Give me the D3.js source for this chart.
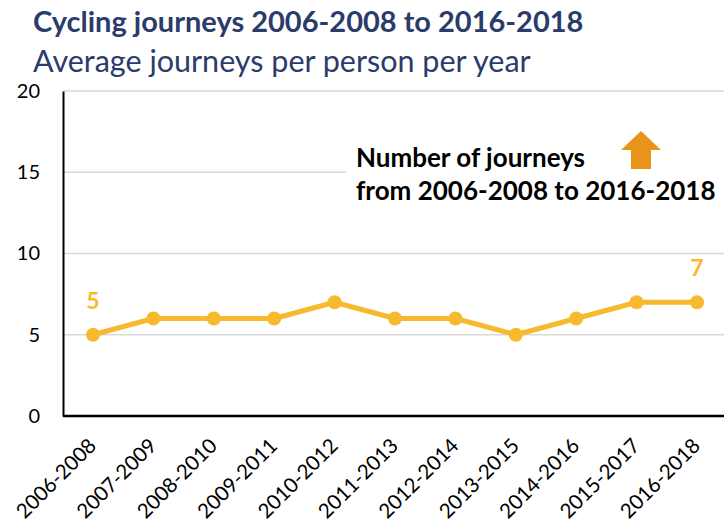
<!DOCTYPE html>
<html>
<head>
<meta charset="utf-8">
<script src="https://cdn.jsdelivr.net/npm/d3@7/dist/d3.min.js"></script>
<style>
  html, body { margin: 0; padding: 0; background: #fff; }
  svg { display: block; }
</style>
</head>
<body>
<svg id="chart" width="724" height="521"></svg>
<script>
// Cycling journeys per person per year, three-year rolling periods
const periods = ["2006-2008", "2007-2009", "2008-2010", "2009-2011", "2010-2012",
  "2011-2013", "2012-2014", "2013-2015", "2014-2016", "2015-2017", "2016-2018"];
const journeys = [5, 6, 6, 6, 7, 6, 6, 5, 6, 7, 7];
const yTicks = [0, 5, 10, 15, 20];
const labelledIdx = [0, 10];

(function draw() {
  const font = "Lato, 'Open Sans', sans-serif";
  const lineColor = "#F7B92E";
  const navy = "#2B3B6B";

  const svg = d3.select("#chart");

  const plotLeft = 63, plotRight = 724, plotTop = 91, plotBottom = 416;
  const x = d3.scalePoint().domain(periods).range([93, 697]);
  const y = d3.scaleLinear().domain([0, 20]).range([plotBottom, plotTop]);

  // Title block
  svg.append("text").attr("x", 33).attr("y", 32)
    .attr("font-family", font).attr("font-weight", "bold").attr("font-size", 29)
    .attr("fill", navy).text("Cycling journeys 2006-2008 to 2016-2018");
  svg.append("text").attr("x", 33).attr("y", 72)
    .attr("font-family", font).attr("font-size", 30.5)
    .attr("fill", navy).text("Average journeys per person per year");

  // Horizontal gridlines
  svg.append("g").selectAll("line").data(yTicks.filter(d => d > 0)).join("line")
    .attr("x1", plotLeft).attr("x2", plotRight)
    .attr("y1", d => y(d)).attr("y2", d => y(d))
    .attr("stroke", "#d9d9d9").attr("stroke-width", 1.5);

  // Y axis
  const yAxis = svg.append("g").attr("transform", `translate(${plotLeft},0)`)
    .call(d3.axisLeft(y).tickValues(yTicks).tickSize(0).tickPadding(23));
  yAxis.select(".domain").attr("stroke", "#000").attr("stroke-width", 2);
  yAxis.selectAll("text").attr("font-family", font).attr("font-size", 20).attr("fill", "#000");

  // X axis
  const xAxis = svg.append("g").attr("transform", `translate(0,${plotBottom})`)
    .call(d3.axisBottom(x).tickSize(0).tickPadding(0));
  xAxis.select(".domain").attr("d", `M${plotLeft},0H${plotRight}`)
    .attr("stroke", "#000").attr("stroke-width", 2.5);
  xAxis.selectAll("text")
    .attr("font-family", font).attr("font-size", 20.5).attr("fill", "#000")
    .attr("text-anchor", "end").attr("dy", null)
    .attr("transform", "translate(4,31) rotate(-45)");

  // Annotation with white backing
  svg.append("rect").attr("x", 346).attr("y", 140).attr("width", 378).attr("height", 74).attr("fill", "#fff");
  svg.append("text").attr("x", 356).attr("y", 167)
    .attr("font-family", font).attr("font-weight", "bold").attr("font-size", 26)
    .attr("fill", "#000").text("Number of journeys");
  svg.append("text").attr("x", 356).attr("y", 200)
    .attr("font-family", font).attr("font-weight", "bold").attr("font-size", 26)
    .attr("fill", "#000").text("from 2006-2008 to 2016-2018");
  svg.append("path")
    .attr("d", "M621,150L641,131L661,150L651,150L651,169L631,169L631,150Z")
    .attr("fill", "#E8931A");

  // Series line and markers
  const line = d3.line().x((d, i) => x(periods[i])).y(d => y(d));
  svg.append("path").datum(journeys).attr("d", line)
    .attr("fill", "none").attr("stroke", lineColor).attr("stroke-width", 5)
    .attr("stroke-linejoin", "round");
  svg.append("g").selectAll("circle").data(journeys).join("circle")
    .attr("cx", (d, i) => x(periods[i])).attr("cy", d => y(d)).attr("r", 7)
    .attr("fill", lineColor);

  // Value labels at start and end
  svg.append("g").selectAll("text").data(labelledIdx).join("text")
    .attr("x", i => x(periods[i])).attr("y", i => y(journeys[i]) - 26)
    .attr("text-anchor", "middle")
    .attr("font-family", font).attr("font-weight", "bold").attr("font-size", 23)
    .attr("fill", lineColor).text(i => journeys[i]);
})();
</script>
</body>
</html>
